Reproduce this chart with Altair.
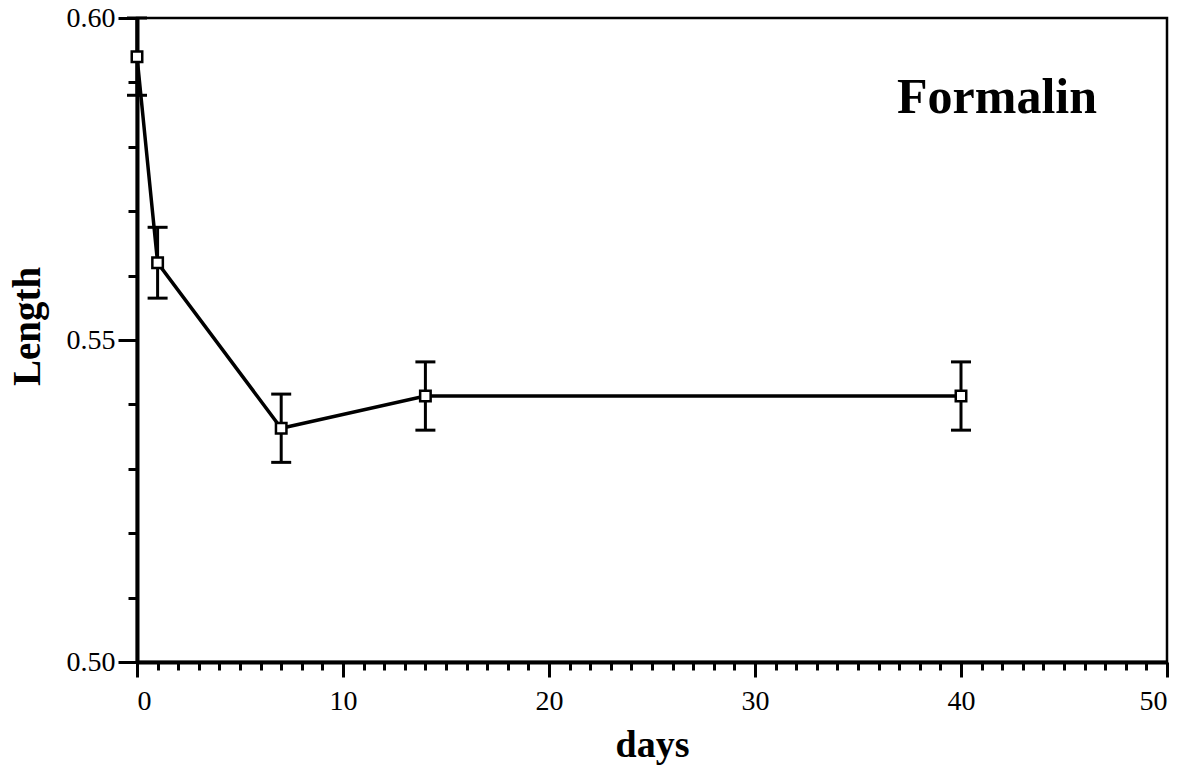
import altair as alt
import pandas as pd

# Shrinkage of formalin-fixed specimens over time
days = [0, 1, 7, 14, 40]
length = [0.594, 0.562, 0.5363, 0.5413, 0.5413]
err = [0.006, 0.0055, 0.0053, 0.0053, 0.0053]

df = pd.DataFrame({"days": days, "length": length, "err": err})
df["lo"] = df["length"] - df["err"]
df["hi"] = df["length"] + df["err"]

SERIF = "Liberation Serif"

x_scale = alt.Scale(domain=[0, 50], nice=False, zero=False)
y_scale = alt.Scale(domain=[0.50, 0.60], nice=False, zero=False)

x_ticks = list(range(0, 51))
y_ticks = [round(0.50 + 0.01 * i, 2) for i in range(11)]

MAJOR_Y = "abs(datum.value * 20 - round(datum.value * 20)) < 0.001"

x_axis = alt.Axis(
    title="days", values=x_ticks, grid=False,
    labelExpr="datum.value % 10 == 0 ? datum.label : ''",
    tickSize={"expr": "datum.value % 10 == 0 ? 15 : 8"},
    tickWidth=3, tickColor="black", domainWidth=4, domainColor="black",
    labelFont=SERIF, labelFontSize=28, labelColor="black", labelPadding=10,
    titleFont=SERIF, titleFontSize=38, titleFontWeight="bold", titleColor="black",
    titleX=515, titleY=94, titleBaseline="alphabetic", titleAlign="center",
)
y_axis = alt.Axis(
    title="Length", values=y_ticks, grid=False, format=".2f",
    labelExpr=f"{MAJOR_Y} ? datum.label : ''",
    tickSize={"expr": f"{MAJOR_Y} ? 19 : 9"},
    tickWidth=3, tickColor="black", domainWidth=4, domainColor="black",
    labelFont=SERIF, labelFontSize=28, labelColor="black", labelPadding=3,
    titleFont=SERIF, titleFontSize=39, titleFontWeight="bold", titleColor="black",
    titleX=-110, titleY=308, titleBaseline="middle", titleAlign="center", titleAngle=270,
)

X = alt.X("days:Q", scale=x_scale, axis=x_axis)


def Y(field):
    return alt.Y(f"{field}:Q", scale=y_scale, axis=y_axis)


base = alt.Chart(df)

line = base.mark_line(color="black", strokeWidth=3.5).encode(x=X, y=Y("length"))

bars = base.mark_rule(color="black", strokeWidth=3, opacity=1).encode(
    x=X, y=Y("lo"), y2="hi:Q"
)

cap_lo = base.mark_tick(color="black", thickness=3, size=20, orient="horizontal",
                        opacity=1).encode(x=X, y=Y("lo"))
cap_hi = base.mark_tick(color="black", thickness=3, size=20, orient="horizontal",
                        opacity=1).encode(x=X, y=Y("hi"))

points = base.mark_square(size=110, filled=True, fill="white", stroke="black",
                          strokeWidth=2.5, opacity=1).encode(x=X, y=Y("length"))

label = alt.Chart(pd.DataFrame({"t": ["Formalin"]})).mark_text(
    font=SERIF, fontSize=50, fontWeight="bold", color="black", align="left",
    baseline="alphabetic"
).encode(x=alt.value(760), y=alt.value(95), text="t:N")

chart = (
    alt.layer(line, bars, cap_lo, cap_hi, points, label)
    .properties(
        width=1030, height=644,
        autosize=alt.AutoSizeParams(type="none"),
        padding={"left": 137, "top": 18, "right": 23, "bottom": 105},
        background="white",
    )
    .configure_view(stroke="black", strokeWidth=2.5)
)

chart.save("out.html", embed_options={"renderer": "svg", "actions": False})
